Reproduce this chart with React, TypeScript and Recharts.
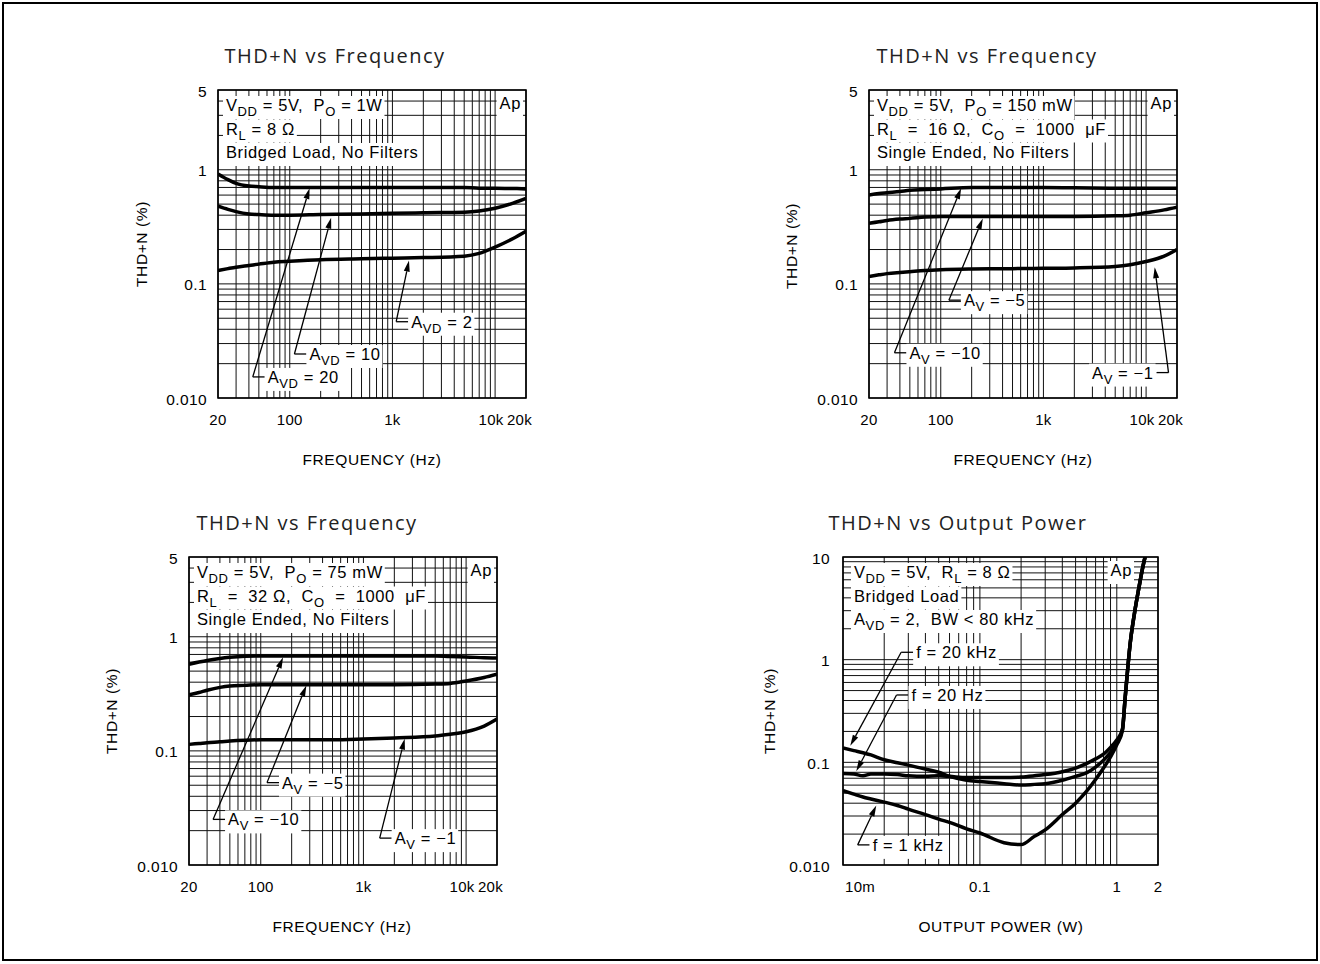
import React from "react";
import {
  CartesianGrid,
  Line,
  LineChart,
  ReferenceArea,
  ReferenceDot,
  ReferenceLine,
  XAxis,
  YAxis,
} from "recharts";

// sweep points of the three THD+N vs frequency plots (Hz)
const FREQ = [20, 25, 30, 40, 50, 70, 100, 200, 500, 1000, 2000, 5000, 7000, 10000, 15000, 20000];

// bridged, 8 ohm, 1 W
const BTL_AVD20 = [0.92, 0.82, 0.76, 0.72, 0.71, 0.7, 0.7, 0.7, 0.7, 0.7, 0.7, 0.7, 0.69, 0.69, 0.685, 0.68];
const BTL_AVD10 = [0.48, 0.45, 0.43, 0.41, 0.405, 0.4, 0.4, 0.405, 0.41, 0.415, 0.42, 0.425, 0.435, 0.46, 0.51, 0.56];
const BTL_AVD2 = [0.131, 0.136, 0.14, 0.145, 0.149, 0.155, 0.158, 0.163, 0.166, 0.168, 0.17, 0.175, 0.185, 0.21, 0.25, 0.29];

// single ended, 16 ohm, 150 mW
const SE16_AV10 = [0.6, 0.62, 0.63, 0.645, 0.66, 0.67, 0.68, 0.7, 0.7, 0.7, 0.695, 0.69, 0.69, 0.69, 0.69, 0.69];
const SE16_AV5 = [0.34, 0.35, 0.36, 0.37, 0.375, 0.385, 0.39, 0.39, 0.39, 0.39, 0.39, 0.395, 0.4, 0.42, 0.445, 0.47];
const SE16_AV1 = [0.116, 0.12, 0.123, 0.126, 0.128, 0.131, 0.133, 0.135, 0.136, 0.137, 0.138, 0.142, 0.147, 0.157, 0.175, 0.2];

// single ended, 32 ohm, 75 mW
const SE32_AV10 = [0.574, 0.6, 0.62, 0.645, 0.66, 0.675, 0.68, 0.68, 0.68, 0.68, 0.68, 0.68, 0.67, 0.665, 0.655, 0.65];
const SE32_AV5 = [0.31, 0.325, 0.34, 0.36, 0.37, 0.375, 0.38, 0.38, 0.38, 0.38, 0.38, 0.385, 0.39, 0.41, 0.44, 0.47];
const SE32_AV1 = [0.114, 0.116, 0.118, 0.12, 0.122, 0.124, 0.125, 0.125, 0.125, 0.127, 0.13, 0.135, 0.14, 0.147, 0.165, 0.19];

// THD+N vs output power (W)
const POWER = [0.01, 0.012, 0.014, 0.016, 0.02, 0.025, 0.03, 0.04, 0.05, 0.06, 0.08, 0.1, 0.15, 0.2, 0.25, 0.3, 0.4, 0.5, 0.6, 0.7, 0.8, 0.9, 1.0, 1.1, 1.15, 1.2, 1.25, 1.35, 1.45, 1.55, 1.65];
const PWR_20HZ = [0.078, 0.077, 0.074, 0.077, 0.077, 0.076, 0.074, 0.073, 0.074, 0.073, 0.071, 0.071, 0.071, 0.072, 0.074, 0.076, 0.081, 0.088, 0.097, 0.108, 0.12, 0.14, 0.165, 0.21, 0.42, 0.8, 1.4, 2.9, 5.0, 8.0, 11.5];
const PWR_20KHZ = [0.138, 0.13, 0.124, 0.118, 0.106, 0.099, 0.094, 0.086, 0.08, 0.073, 0.067, 0.065, 0.062, 0.06, 0.061, 0.062, 0.067, 0.073, 0.079, 0.09, 0.105, 0.125, 0.155, 0.21, 0.42, 0.8, 1.4, 2.9, 5.0, 8.0, 11.5];
const PWR_1KHZ = [0.053, 0.049, 0.046, 0.044, 0.041, 0.038, 0.035, 0.031, 0.028, 0.026, 0.0225, 0.0205, 0.0165, 0.0158, 0.019, 0.022, 0.031, 0.04, 0.052, 0.068, 0.088, 0.113, 0.148, 0.205, 0.42, 0.8, 1.4, 2.9, 5.0, 8.0, 11.5];

// labelled ticks
const X_FREQ_TICKS = [20, 100, 1000, 10000, 20000];
const X_FREQ_LABELS = ["20", "100", "1k", "10k", "20k"];
const Y_FREQ_TICKS = [0.01, 0.1, 1, 5];
const Y_FREQ_LABELS = ["0.010", "0.1", "1", "5"];
const X_POWER_TICKS = [0.01, 0.1, 1, 2];
const X_POWER_LABELS = ["10m", "0.1", "1", "2"];
const Y_POWER_TICKS = [0.01, 0.1, 1, 10];
const Y_POWER_LABELS = ["0.010", "0.1", "1", "10"];

const FONT = '"Liberation Sans", Arial, sans-serif';
const TITLE_FONT = '"Open Sans", sans-serif';
const TXT = 16.5;
const SUB = 13;
const LS = 0.6;

// 1-2-3..9 grid lines between lo and hi
function logGrid(lo: number, hi: number) {
  const out: number[] = [];
  for (let e = Math.floor(Math.log10(lo)); e <= Math.ceil(Math.log10(hi)); e++) {
    for (let m = 1; m < 10; m++) {
      const v = +(m * Math.pow(10, e)).toPrecision(6);
      if (v >= lo * 0.9999 && v <= hi * 1.0001) out.push(v);
    }
  }
  return out;
}

const zip = (xs: number[], ys: number[]) => xs.map((x, i) => ({ x, y: ys[i] }));

let ctx: CanvasRenderingContext2D | null = null;
function measure(s: string, size: number) {
  if (!ctx) ctx = document.createElement("canvas").getContext("2d");
  ctx!.font = `${size}px ${FONT}`;
  return ctx!.measureText(s).width + LS * s.length;
}

type Seg = { t: string; sub: boolean };
function parse(s: string): Seg[] {
  return s
    .split(/(_\{[^}]*\})/)
    .filter(Boolean)
    .map((p) => (p.startsWith("_{") ? { t: p.slice(2, -1), sub: true } : { t: p, sub: false }));
}

function RichText({ x, y, s, anchor = "start" }: { x: number; y: number; s: string; anchor?: string }) {
  const segs = parse(s);
  const w = segs.reduce((acc, g) => acc + measure(g.t, g.sub ? SUB : TXT), 0);
  const x0 = anchor === "end" ? x - w : x;
  let prevSub = false;
  return (
    <g>
      <rect x={x0 - 3} y={y - 15} width={w + 5} height={23} fill="#fff" />
      <text x={x0} y={y} fontFamily={FONT} fontSize={TXT} letterSpacing={LS} fill="#000" style={{ whiteSpace: "pre" }}>
        {segs.map((g, i) => {
          const dy = (g.sub ? 5 : 0) - (prevSub ? 5 : 0);
          prevSub = g.sub;
          return (
            <tspan key={i} dy={dy} fontSize={g.sub ? SUB : TXT}>
              {g.t}
            </tspan>
          );
        })}
      </text>
    </g>
  );
}

const arrowShape = (p: any) => {
  const { x1, y1, x2, y2 } = p;
  const a = Math.atan2(y2 - y1, x2 - x1);
  const L = 11;
  const W = 3;
  const bx = x2 - L * Math.cos(a);
  const by = y2 - L * Math.sin(a);
  const nx = -Math.sin(a) * W;
  const ny = Math.cos(a) * W;
  return (
    <g>
      <line x1={x1} y1={y1} x2={bx} y2={by} stroke="#000" strokeWidth={1.3} />
      <polygon points={`${x2},${y2} ${bx + nx},${by + ny} ${bx - nx},${by - ny}`} fill="#000" />
    </g>
  );
};

const calloutShape = (text: string, side: string) => (p: any) => {
  const { cx, cy } = p;
  const d = side === "left" ? -1 : 1;
  return (
    <g>
      <line x1={cx} y1={cy} x2={cx + d * 12} y2={cy} stroke="#000" strokeWidth={1.3} />
      <RichText x={cx + d * 15} y={cy + 6} s={text} anchor={side === "left" ? "end" : "start"} />
    </g>
  );
};

const condShape = (lines: string[], dx: number) => (p: any) => (
  <g>
    {lines.map((l, i) => (
      <RichText key={i} x={p.cx + dx} y={p.cy + 21 + i * 23.5} s={l} />
    ))}
  </g>
);

const apShape = (dx: number) => (p: any) => <RichText x={p.cx - dx} y={p.cy + 19} s="Ap" anchor="end" />;

type Callout = { text: string; corner: [number, number]; tip: [number, number]; side?: string };

type PanelCfg = {
  title: string;
  xTitle: string;
  box: { left: number; top: number; w: number; h: number };
  titleAt: [number, number];
  yTitleAt: [number, number];
  xTitleAt: [number, number];
  xDomain: [number, number];
  yDomain: [number, number];
  xTicks: number[];
  xLabels: string[];
  yTicks: number[];
  yLabels: string[];
  yGap: number;
  series: { x: number; y: number }[][];
  cond: string[];
  condDx: number;
  apDx: number;
  callouts: Callout[];
};

const PANELS: PanelCfg[] = [
  {
    title: "THD+N vs Frequency",
    xTitle: "FREQUENCY (Hz)",
    box: { left: 218, top: 90, w: 308, h: 308 },
    titleAt: [335, 56],
    yTitleAt: [142, 244],
    xTitleAt: [372, 460],
    xDomain: [20, 20000],
    yDomain: [0.01, 5],
    xTicks: X_FREQ_TICKS,
    xLabels: X_FREQ_LABELS,
    yTicks: Y_FREQ_TICKS,
    yLabels: Y_FREQ_LABELS,
    yGap: 11,
    series: [zip(FREQ, BTL_AVD20), zip(FREQ, BTL_AVD10), zip(FREQ, BTL_AVD2)],
    cond: ["V_{DD} = 5V,  P_{O} = 1W", "R_{L} = 8 Ω", "Bridged Load, No Filters"],
    condDx: 8,
    apDx: 5,
    callouts: [
      { text: "A_{VD} = 20", corner: [43.6, 0.0153], tip: [156, 0.69] },
      { text: "A_{VD} = 10", corner: [111, 0.0243], tip: [253, 0.38] },
      { text: "A_{VD} = 2", corner: [1088, 0.0466], tip: [1450, 0.16] },
    ],
  },
  {
    title: "THD+N vs Frequency",
    xTitle: "FREQUENCY (Hz)",
    box: { left: 869, top: 90, w: 308, h: 308 },
    titleAt: [987, 56],
    yTitleAt: [792, 246],
    xTitleAt: [1023, 460],
    xDomain: [20, 20000],
    yDomain: [0.01, 5],
    xTicks: X_FREQ_TICKS,
    xLabels: X_FREQ_LABELS,
    yTicks: Y_FREQ_TICKS,
    yLabels: Y_FREQ_LABELS,
    yGap: 11,
    series: [zip(FREQ, SE16_AV10), zip(FREQ, SE16_AV5), zip(FREQ, SE16_AV1)],
    cond: ["V_{DD} = 5V,  P_{O} = 150 mW", "R_{L}  =  16 Ω,  C_{O}  =  1000  μF", "Single Ended, No Filters"],
    condDx: 8,
    apDx: 5,
    callouts: [
      { text: "A_{V} = −10", corner: [35.4, 0.0249], tip: [158, 0.69] },
      { text: "A_{V} = −5", corner: [120, 0.072], tip: [257, 0.375] },
      { text: "A_{V} = −1", corner: [16540, 0.0167], tip: [12130, 0.14], side: "left" },
    ],
  },
  {
    title: "THD+N vs Frequency",
    xTitle: "FREQUENCY (Hz)",
    box: { left: 189, top: 557, w: 308, h: 308 },
    titleAt: [307, 523],
    yTitleAt: [112, 711],
    xTitleAt: [342, 927],
    xDomain: [20, 20000],
    yDomain: [0.01, 5],
    xTicks: X_FREQ_TICKS,
    xLabels: X_FREQ_LABELS,
    yTicks: Y_FREQ_TICKS,
    yLabels: Y_FREQ_LABELS,
    yGap: 11,
    series: [zip(FREQ, SE32_AV10), zip(FREQ, SE32_AV5), zip(FREQ, SE32_AV1)],
    cond: ["V_{DD} = 5V,  P_{O} = 75 mW", "R_{L}  =  32 Ω,  C_{O}  =  1000  μF", "Single Ended, No Filters"],
    condDx: 8,
    apDx: 5,
    callouts: [
      { text: "A_{V} = −10", corner: [34.3, 0.0251], tip: [165, 0.66] },
      { text: "A_{V} = −5", corner: [115, 0.0527], tip: [278, 0.375] },
      { text: "A_{V} = −1", corner: [1440, 0.0172], tip: [2524, 0.128] },
    ],
  },
  {
    title: "THD+N vs Output Power",
    xTitle: "OUTPUT POWER (W)",
    box: { left: 843, top: 557, w: 315, h: 308 },
    titleAt: [958, 523],
    yTitleAt: [770, 711],
    xTitleAt: [1001, 927],
    xDomain: [0.01, 2],
    yDomain: [0.01, 10],
    xTicks: X_POWER_TICKS,
    xLabels: X_POWER_LABELS,
    yTicks: Y_POWER_TICKS,
    yLabels: Y_POWER_LABELS,
    yGap: 13,
    series: [zip(POWER, PWR_20HZ), zip(POWER, PWR_20KHZ), zip(POWER, PWR_1KHZ)],
    cond: ["V_{DD} = 5V,  R_{L} = 8 Ω", "Bridged Load", "A_{VD} = 2,  BW < 80 kHz"],
    condDx: 11,
    apDx: 26,
    callouts: [
      { text: "f = 20 kHz", corner: [0.0266, 1.18], tip: [0.0113, 0.145] },
      { text: "f = 20 Hz", corner: [0.0246, 0.453], tip: [0.0125, 0.082] },
      { text: "f = 1 kHz", corner: [0.0128, 0.0157], tip: [0.0175, 0.038] },
    ],
  },
];

const findLabel = (v: number, ticks: number[], labels: string[]) => {
  const i = ticks.findIndex((t) => Math.abs(v / t - 1) < 1e-6);
  return i < 0 ? null : labels[i];
};

const ML = 10;
const YW = 100;
const MT = 20;
const XH = 50;

function Panel({ c }: { c: PanelCfg }) {
  const width = ML + YW + c.box.w + 20;
  const height = MT + c.box.h + XH + 10;
  const xGrid = logGrid(c.xDomain[0], c.xDomain[1]);
  const yGrid = logGrid(c.yDomain[0], c.yDomain[1]);

  const xTick = (p: any) => {
    const s = findLabel(p.payload.value, c.xTicks, c.xLabels);
    if (!s) return <g />;
    let anchor = "middle";
    let dx = 0;
    if (s === "10k") dx = -4;
    if (s === "20k") {
      anchor = "end";
      dx = 6;
    }
    if (s === "10m") {
      anchor = "start";
      dx = 2;
    }
    return (
      <text x={p.x + dx} y={p.y + 21} textAnchor={anchor} dominantBaseline="central" fontFamily={FONT} fontSize={15} letterSpacing={0.3} fill="#000">
        {s}
      </text>
    );
  };

  const yTick = (p: any) => {
    const s = findLabel(p.payload.value, c.yTicks, c.yLabels);
    if (!s) return <g />;
    return (
      <text x={p.x - c.yGap} y={p.y + 1} textAnchor="end" dominantBaseline="central" fontFamily={FONT} fontSize={15.5} letterSpacing={0.4} fill="#000">
        {s}
      </text>
    );
  };

  return (
    <div style={{ position: "absolute", left: c.box.left - ML - YW, top: c.box.top - MT }}>
      <LineChart width={width} height={height} margin={{ top: MT, right: 20, bottom: 10, left: ML }}>
        <CartesianGrid stroke="#111" strokeWidth={1} />
        <XAxis
          type="number"
          dataKey="x"
          scale="log"
          domain={c.xDomain}
          allowDataOverflow
          ticks={xGrid}
          interval={0}
          tickSize={0}
          tickMargin={0}
          axisLine={false}
          tickLine={false}
          height={XH}
          tick={xTick}
        />
        <YAxis
          type="number"
          scale="log"
          domain={c.yDomain}
          allowDataOverflow
          ticks={yGrid}
          interval={0}
          tickSize={0}
          tickMargin={0}
          axisLine={false}
          tickLine={false}
          width={YW}
          tick={yTick}
        />
        {c.series.map((s, i) => (
          <Line
            key={i}
            data={s}
            dataKey="y"
            type="monotone"
            dot={false}
            stroke="#000"
            strokeWidth={3.5}
            isAnimationActive={false}
          />
        ))}
        <ReferenceArea
          x1={c.xDomain[0]}
          x2={c.xDomain[1]}
          y1={c.yDomain[0]}
          y2={c.yDomain[1]}
          fill="none"
          fillOpacity={0}
          stroke="#000"
          strokeWidth={1.6}
          ifOverflow="visible"
        />
        <ReferenceDot x={c.xDomain[0]} y={c.yDomain[1]} r={0} ifOverflow="visible" shape={condShape(c.cond, c.condDx)} />
        <ReferenceDot x={c.xDomain[1]} y={c.yDomain[1]} r={0} ifOverflow="visible" shape={apShape(c.apDx)} />
        {c.callouts.map((o, i) => (
          <ReferenceLine
            key={"a" + i}
            segment={[
              { x: o.corner[0], y: o.corner[1] },
              { x: o.tip[0], y: o.tip[1] },
            ]}
            ifOverflow="visible"
            shape={arrowShape}
          />
        ))}
        {c.callouts.map((o, i) => (
          <ReferenceDot
            key={"t" + i}
            x={o.corner[0]}
            y={o.corner[1]}
            r={0}
            ifOverflow="visible"
            shape={calloutShape(o.text, o.side || "right")}
          />
        ))}
      </LineChart>
    </div>
  );
}

const abs = (x: number, y: number, extra: React.CSSProperties = {}): React.CSSProperties => ({
  position: "absolute",
  left: x,
  top: y,
  transform: "translate(-50%, -50%)",
  whiteSpace: "nowrap",
  color: "#000",
  lineHeight: 1,
  ...extra,
});

export default function App() {
  return (
    <div style={{ position: "absolute", left: 0, top: 0, width: 1320, height: 964, background: "#fff", overflow: "hidden" }}>
      <div
        style={{
          position: "absolute",
          left: 2,
          top: 2,
          width: 1316,
          height: 959,
          border: "2px solid #000",
          boxSizing: "border-box",
        }}
      />
      {PANELS.map((c, i) => (
        <React.Fragment key={i}>
          <Panel c={c} />
          <div style={abs(c.titleAt[0], c.titleAt[1], { fontFamily: TITLE_FONT, fontSize: 20, letterSpacing: 1.5, color: "#222" })}>
            {c.title}
          </div>
          <div style={abs(c.xTitleAt[0], c.xTitleAt[1], { fontFamily: FONT, fontSize: 15.5, letterSpacing: 0.6 })}>{c.xTitle}</div>
          <div
            style={abs(c.yTitleAt[0], c.yTitleAt[1], {
              fontFamily: FONT,
              fontSize: 15.5,
              letterSpacing: 0.6,
              transform: "translate(-50%, -50%) rotate(-90deg)",
            })}
          >
            THD+N (%)
          </div>
        </React.Fragment>
      ))}
    </div>
  );
}
